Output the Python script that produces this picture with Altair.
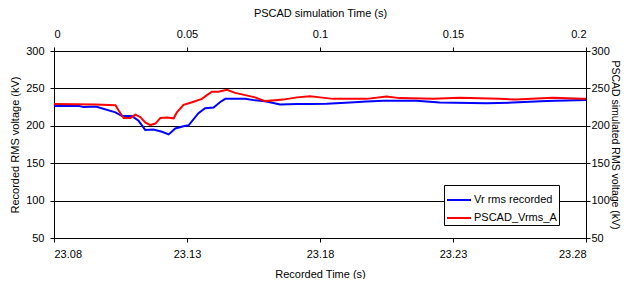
import altair as alt
import pandas as pd

# Recorded RMS voltage (recorded time axis, s ; kV)
rec_t = [23.0800, 23.0895, 23.0912, 23.0935, 23.0960, 23.1031, 23.1056, 23.1093,
         23.1118, 23.1143, 23.1174, 23.1206, 23.1231, 23.1256, 23.1287, 23.1306,
         23.1343, 23.1368, 23.1400, 23.1425, 23.1444, 23.1519, 23.1556, 23.1594,
         23.1650, 23.1713, 23.1762, 23.1825, 23.1913, 23.1975, 23.2038, 23.2163,
         23.2250, 23.2426, 23.2525, 23.2651, 23.2800]
rec_v = [226.5, 226.5, 225.0, 225.5, 225.5, 218.0, 213.0, 213.0,
         206.7, 194.5, 195.0, 192.0, 188.5, 196.5, 199.5, 200.6,
         216.8, 223.6, 224.5, 231.8, 236.0, 236.0, 234.0, 232.8,
         228.5, 229.0, 229.0, 229.5, 231.0, 232.5, 233.5, 233.5,
         231.0, 230.0, 231.0, 233.0, 234.5]

# PSCAD simulated RMS voltage (simulation time axis, s ; kV)
sim_t = [0.0000, 0.0156, 0.0231, 0.0243, 0.0262, 0.0287, 0.0306, 0.0325,
         0.0343, 0.0362, 0.0381, 0.0400, 0.0425, 0.0450, 0.0462, 0.0487,
         0.0519, 0.0556, 0.0575, 0.0594, 0.0618, 0.0650, 0.0681, 0.0719,
         0.0756, 0.0794, 0.0862, 0.0913, 0.0962, 0.1000, 0.1050, 0.1175,
         0.1250, 0.1300, 0.1425, 0.1525, 0.1675, 0.1738, 0.1875, 0.1988, 0.2000]
sim_v = [229.0, 228.5, 227.5, 220.5, 210.5, 210.5, 215.0, 211.5,
         204.5, 201.0, 203.0, 210.5, 211.0, 210.0, 218.0, 228.0,
         231.5, 236.0, 241.0, 245.5, 245.5, 248.0, 244.0, 241.0,
         238.0, 233.0, 235.0, 238.0, 239.5, 238.0, 236.0, 236.0,
         239.0, 237.0, 236.0, 237.5, 236.0, 235.0, 237.5, 236.0, 236.0]

series_names = ["Vr rms recorded", "PSCAD_Vrms_A"]
series_colors = ["#0000FF", "#FF0000"]

rec_ticks = [23.08, 23.13, 23.18, 23.23, 23.28]
sim_ticks = [0, 0.05, 0.1, 0.15, 0.2]
v_ticks = [50, 100, 150, 200, 250, 300]

df_rec = pd.DataFrame({"t": rec_t, "v": rec_v, "series": series_names[0]})
df_sim = pd.DataFrame({"t": sim_t, "v": sim_v, "series": series_names[1]})

FONT = "Liberation Sans"

color = alt.Color(
    "series:N",
    scale=alt.Scale(domain=series_names, range=series_colors),
    legend=alt.Legend(
        title=None, orient="none", legendX=390, legendY=134,
        strokeColor="black", fillColor="white", padding=2,
        symbolType="stroke", symbolStrokeWidth=2, symbolSize=576,
        labelFontSize=11, labelFont=FONT, labelColor="black",
        labelOffset=2, rowPadding=0, cornerRadius=0,
    ),
)

blue = alt.Chart(df_rec).mark_line(strokeWidth=2).encode(
    x=alt.X("t:Q",
            scale=alt.Scale(domain=[23.08, 23.28], nice=False, zero=False),
            axis=alt.Axis(orient="bottom", values=rec_ticks, format=".2f",
                          title="Recorded Time (s)", grid=False,
                          tickSize=4, labelPadding=6, titlePadding=9)),
    y=alt.Y("v:Q",
            scale=alt.Scale(domain=[50, 300], nice=False, zero=False),
            axis=alt.Axis(orient="left", values=v_ticks, grid=True,
                          gridColor="black", gridWidth=1,
                          title="Recorded RMS voltage (kV)",
                          tickSize=4, labelPadding=6, titlePadding=5)),
    color=color,
)

red = alt.Chart(df_sim).mark_line(strokeWidth=2).encode(
    x=alt.X("t:Q",
            scale=alt.Scale(domain=[0, 0.2], nice=False, zero=False),
            axis=alt.Axis(orient="top", values=sim_ticks, format="~g",
                          title="PSCAD simulation Time (s)", grid=False,
                          tickSize=4, labelPadding=8, titlePadding=10)),
    y=alt.Y("v:Q",
            scale=alt.Scale(domain=[50, 300], nice=False, zero=False),
            axis=alt.Axis(orient="right", values=v_ticks, grid=False,
                          title="PSCAD simulated RMS voltage (kV)",
                          titleFontSize=10.5,
                          tickSize=4, labelPadding=1, titlePadding=0)),
    color=color,
)

chart = alt.layer(blue, red).resolve_scale(
    x="independent", y="independent"
).properties(
    width=532, height=187,
    autosize=alt.AutoSizeParams(type="none"),
    padding={"left": 46, "top": 43, "right": 35, "bottom": 41},
    background="white",
).configure_view(
    stroke="black", strokeWidth=1,
).configure_axis(
    domainColor="black", tickColor="black", labelColor="black",
    titleColor="black", labelFont=FONT, titleFont=FONT,
    labelFontSize=11, titleFontSize=11, titleFontWeight="normal",
)

chart.save("out.html", embed_options={"renderer": "svg", "actions": False})
